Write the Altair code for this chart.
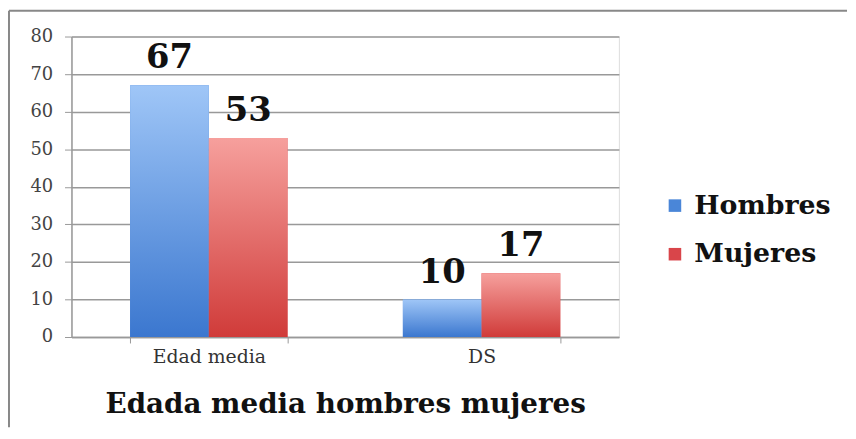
import altair as alt
import pandas as pd

categories = ["Edad media", "DS"]
series = ["Hombres", "Mujeres"]
hombres = [67, 10]
mujeres = [53, 17]

rows = []
for i, c in enumerate(categories):
    rows.append({"cat": c, "serie": "Hombres", "valor": hombres[i]})
    rows.append({"cat": c, "serie": "Mujeres", "valor": mujeres[i]})
df = pd.DataFrame(rows)

SERIF = "DejaVu Serif"

xscale = alt.Scale(domain=categories, paddingInner=0.423, paddingOuter=0.215)
xenc = alt.X("cat:N", scale=xscale, sort=categories,
             axis=alt.Axis(title="Edada media hombres mujeres", labelAngle=0,
                           tickBand="extent", ticks=True, tickSize=6,
                           domainColor="#999999", tickColor="#999999", domainWidth=1.5,
                           labelFont=SERIF, labelFontSize=19, labelColor="#333333",
                           labelPadding=5,
                           titleFont=SERIF, titleFontSize=28, titleFontWeight="bold",
                           titleColor="#111111", titlePadding=24, grid=False))
yenc = alt.Y("valor:Q", scale=alt.Scale(domain=[0, 80]),
             axis=alt.Axis(title=None, values=list(range(0, 81, 10)),
                           domainColor="#999999", tickColor="#999999", tickSize=7,
                           domainWidth=1.5,
                           gridColor="#999999", gridWidth=1.5,
                           labelFont=SERIF, labelFontSize=18, labelColor="#444444",
                           labelPadding=12))
xoff = alt.XOffset("serie:N", scale=alt.Scale(domain=series, paddingInner=0, paddingOuter=0))

base = alt.Chart(df)

legend_bars = base.mark_bar().encode(
    x=xenc, y=yenc, xOffset=xoff,
    color=alt.Color("serie:N", scale=alt.Scale(domain=series, range=["#4a86d8", "#d9454a"]),
                    legend=alt.Legend(title=None, orient="none", legendX=595, legendY=157,
                                      symbolType="square", symbolSize=160,
                                      labelFont=SERIF, labelFontSize=27, labelFontWeight="bold",
                                      labelColor="#111111", rowPadding=21, labelOffset=6))
)

grad_h = alt.Gradient(gradient="linear", x1=0, x2=0, y1=0, y2=1,
                      stops=[alt.GradientStop(color="#9fc6f7", offset=0),
                             alt.GradientStop(color="#3b77cf", offset=1)])
grad_m = alt.Gradient(gradient="linear", x1=0, x2=0, y1=0, y2=1,
                      stops=[alt.GradientStop(color="#f6a09d", offset=0),
                             alt.GradientStop(color="#d03b39", offset=1)])

bars_h = base.mark_bar(color=grad_h).encode(x=xenc, y=yenc, xOffset=xoff).transform_filter(
    alt.datum.serie == "Hombres")
bars_m = base.mark_bar(color=grad_m).encode(x=xenc, y=yenc, xOffset=xoff).transform_filter(
    alt.datum.serie == "Mujeres")

labels = base.mark_text(font=SERIF, fontSize=34, fontWeight="bold", color="#111111",
                        baseline="alphabetic", dy=-17).encode(
    x=xenc, y=yenc, xOffset=xoff, text="valor:Q")

border_top = alt.Chart(pd.DataFrame({"a": [0]})).mark_rule(color="#888888", strokeWidth=2).encode(
    x=alt.value(-63), x2=alt.value(782), y=alt.value(-26))
border_left = alt.Chart(pd.DataFrame({"a": [0]})).mark_rule(color="#888888", strokeWidth=2).encode(
    x=alt.value(-63), y=alt.value(-26), y2=alt.value(394))

chart = alt.layer(border_top, border_left, legend_bars, bars_h, bars_m, labels).properties(
    width=552, height=303, padding=0
).configure_view(stroke=None).configure(background="white")

chart.save("out.html", embed_options={"renderer": "svg", "actions": False})
